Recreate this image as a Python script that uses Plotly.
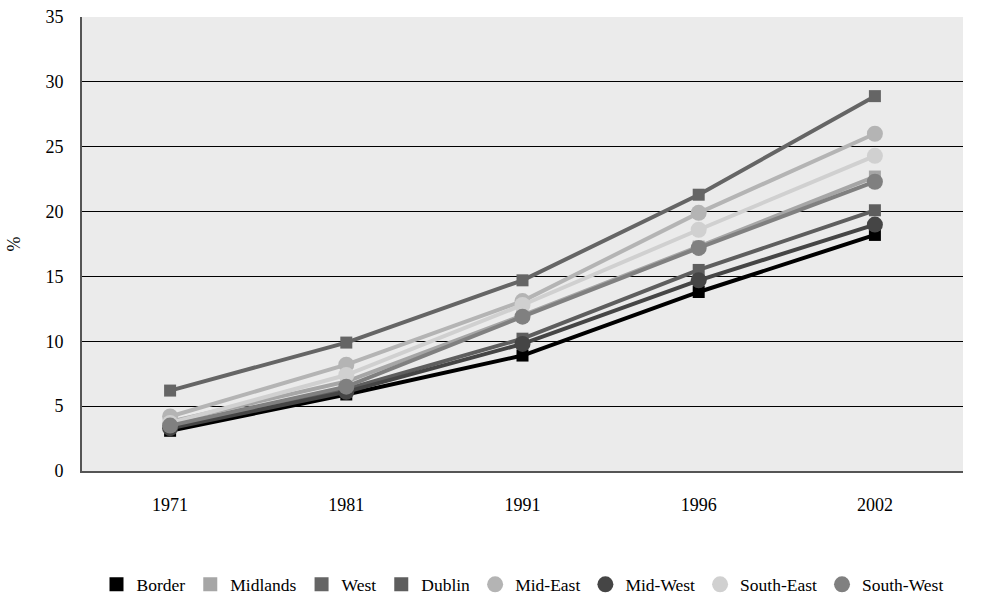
import plotly.graph_objects as go

years = ["1971", "1981", "1991", "1996", "2002"]
regions = ["Border", "Midlands", "West", "Dublin", "Mid-East", "Mid-West", "South-East", "South-West"]
border = [3.1, 5.9, 8.9, 13.8, 18.2]
midlands = [3.8, 6.9, 12.0, 17.3, 22.7]
west = [6.2, 9.9, 14.7, 21.3, 28.9]
dublin = [3.5, 6.3, 10.2, 15.5, 20.1]
mid_east = [4.2, 8.2, 13.1, 19.9, 26.0]
mid_west = [3.3, 6.1, 9.8, 14.7, 19.0]
south_east = [3.7, 7.4, 12.8, 18.6, 24.3]
south_west = [3.5, 6.5, 11.9, 17.2, 22.3]

series = [border, midlands, west, dublin, mid_east, mid_west, south_east, south_west]
colors = ["#000000", "#a6a6a6", "#656565", "#5e5e5e", "#b4b4b4", "#454545", "#d0d0d0", "#808080"]
symbols = ["square", "square", "square", "square", "circle", "circle", "circle", "circle"]
sizes = [12, 12, 12, 12, 16, 16, 16, 16]

FONT = "Liberation Serif, Times New Roman, serif"
fig = go.Figure()
for name, vals, c, s, sz in zip(regions, series, colors, symbols, sizes):
    fig.add_trace(go.Scatter(x=years, y=vals, mode="lines+markers", name=name,
                             line=dict(color=c, width=4),
                             marker=dict(symbol=s, size=sz, color=c),
                             showlegend=False, legendgroup=name))
for name, c, s in zip(regions, colors, symbols):
    fig.add_trace(go.Scatter(x=[None], y=[None], mode="markers", name=name,
                             marker=dict(symbol=s, size=14 if s == "square" else 17, color=c),
                             showlegend=True, legendgroup=name))

fig.update_layout(
    width=989, height=594,
    margin=dict(l=82, r=26, t=17, b=123),
    paper_bgcolor="white", plot_bgcolor="#ebebeb",
    font=dict(family=FONT, size=18, color="black"),
    legend=dict(orientation="h", x=0.5, xanchor="center", xref="paper",
                y=0.016, yanchor="middle", yref="container",
                font=dict(family=FONT, size=17.5), itemwidth=30, tracegroupgap=0,
                itemsizing="trace", borderwidth=0),
)
fig.update_xaxes(type="category", range=[-0.5, len(years) - 0.5], showgrid=False,
                 showline=True, linecolor="#555555", linewidth=2,
                 ticks="", tickfont=dict(size=18), ticklabelstandoff=16, automargin=False)
fig.update_yaxes(range=[0, 35], dtick=5, showgrid=True, gridcolor="#000000", gridwidth=1,
                 showline=True, linecolor="#555555", linewidth=2, zeroline=False,
                 ticks="", tickfont=dict(size=18), ticklabelstandoff=13, automargin=False,
                 title=dict(text="%", font=dict(size=18), standoff=20))
fig.write_html("out.html", config={"displayModeBar": False},
               post_script="document.body.style.margin='0';document.body.style.overflow='hidden';")
